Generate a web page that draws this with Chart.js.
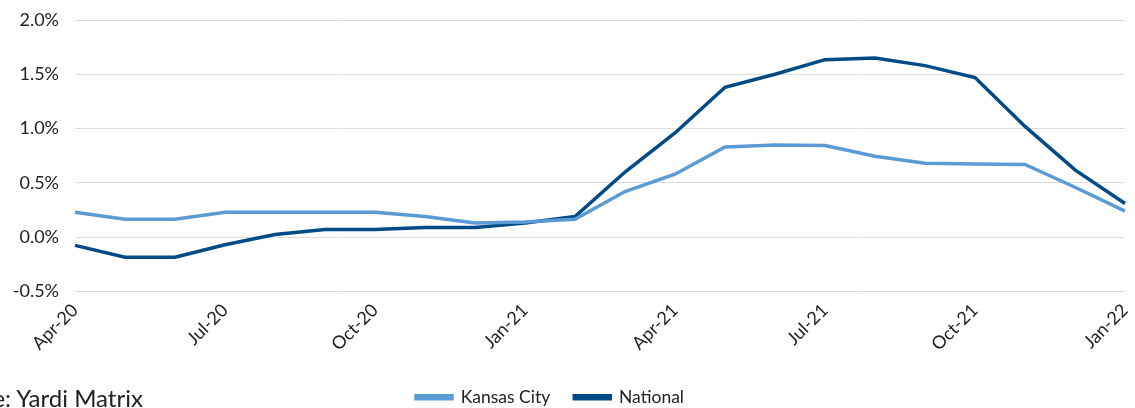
<!DOCTYPE html>
<html>
<head>
<meta charset="utf-8">
<script src="https://cdn.jsdelivr.net/npm/chart.js@4/dist/chart.umd.min.js"></script>
<style>
  html, body { margin: 0; padding: 0; background: #fff; overflow: hidden; }
  #wrap { position: relative; width: 1135px; height: 408px; }
  #source {
    position: absolute; left: -67px; top: 383px;
    font-family: Lato, "Open Sans", sans-serif; font-size: 24px; color: #222;
    white-space: nowrap;
  }
</style>
</head>
<body>
<div id="wrap">
  <canvas id="rentChart" width="1135" height="408"></canvas>
  <div id="source">Source: Yardi Matrix</div>
</div>
<script>
const months = [
  "Apr-20", "May-20", "Jun-20", "Jul-20", "Aug-20", "Sep-20", "Oct-20", "Nov-20",
  "Dec-20", "Jan-21", "Feb-21", "Mar-21", "Apr-21", "May-21", "Jun-21", "Jul-21",
  "Aug-21", "Sep-21", "Oct-21", "Nov-21", "Dec-21", "Jan-22"
];

const kansasCity = [
  0.23, 0.165, 0.165, 0.23, 0.23, 0.23, 0.23, 0.19,
  0.13, 0.14, 0.165, 0.42, 0.58, 0.83, 0.85, 0.845,
  0.745, 0.68, 0.675, 0.67, 0.46, 0.24
];

const national = [
  -0.075, -0.185, -0.185, -0.07, 0.025, 0.07, 0.07, 0.09,
  0.09, 0.13, 0.19, 0.60, 0.96, 1.38, 1.50, 1.635,
  1.65, 1.58, 1.47, 1.02, 0.62, 0.31
];

const tickFont = { family: "Lato, 'Open Sans', sans-serif", size: 18 };

const ctx = document.getElementById("rentChart").getContext("2d");

new Chart(ctx, {
  type: "line",
  data: {
    labels: months,
    datasets: [
      {
        label: "Kansas City",
        data: kansasCity,
        borderColor: "#5b9bd5",
        backgroundColor: "#5b9bd5",
        borderWidth: 3.5,
        pointRadius: 0,
        tension: 0
      },
      {
        label: "National",
        data: national,
        borderColor: "#004a85",
        backgroundColor: "#004a85",
        borderWidth: 3.5,
        pointRadius: 0,
        tension: 0
      }
    ]
  },
  options: {
    responsive: false,
    animation: false,
    layout: {
      padding: { top: 20, right: 10, left: -25, bottom: -8 }
    },
    plugins: {
      legend: {
        position: "bottom",
        labels: {
          boxWidth: 36,
          boxHeight: 3,
          padding: 24,
          color: "#222",
          font: { family: "Lato, 'Open Sans', sans-serif", size: 17.5 }
        }
      },
      tooltip: { enabled: false }
    },
    scales: {
      x: {
        grid: { display: false, drawTicks: false },
        border: { display: false },
        afterFit: function(scale) {
          scale.height = 73;
          scale.paddingLeft = 0;
          scale.paddingRight = 0;
        },
        ticks: {
          autoSkip: false,
          maxRotation: 45,
          minRotation: 45,
          color: "#222",
          font: tickFont,
          padding: 8,
          callback: function(value, index) {
            return index % 3 === 0 ? months[index] : "";
          }
        }
      },
      y: {
        min: -0.5,
        max: 2.0,
        afterFit: function(scale) {
          scale.width = 100;
          scale.paddingTop = 0;
          scale.paddingBottom = 0;
        },
        grid: { color: "#dcdcdc", drawTicks: false, lineWidth: 1 },
        border: { display: false },
        ticks: {
          stepSize: 0.5,
          color: "#222",
          font: tickFont,
          padding: 16,
          callback: function(value) {
            return value.toFixed(1) + "%";
          }
        }
      }
    }
  }
});
</script>
</body>
</html>
